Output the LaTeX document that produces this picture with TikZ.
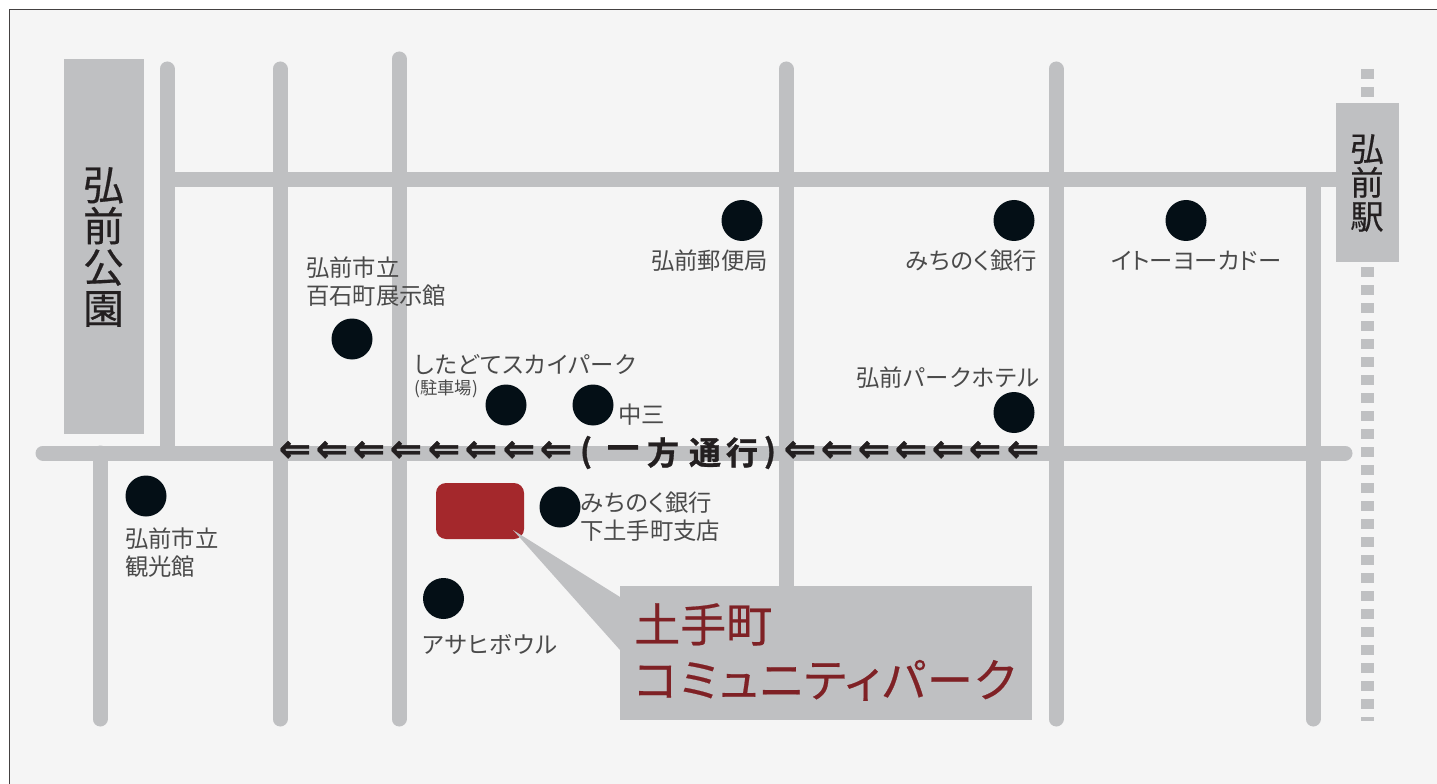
\documentclass[tikz,border=0pt]{standalone}
\usepackage{fontspec}
\setmainfont{Noto Sans CJK JP}[RawFeature=+palt]
\newfontfamily\kanafont{Noto Sans CJK JP}[RawFeature=+palt,LetterSpace=4]
\newfontfamily\medfont{Noto Sans CJK JP}[RawFeature=+palt,FakeBold=0.45]
\newfontfamily\medkana{Noto Sans CJK JP}[RawFeature=+palt,FakeBold=0.45,LetterSpace=3.8]
\newfontfamily\heavyfont{Noto Sans CJK JP Bold}[FakeBold=1]
\newfontfamily\arrowfont{DejaVu Sans Bold}[FakeBold=1]
\definecolor{road}{HTML}{BFC0C2}
\definecolor{paper}{HTML}{F5F5F5}
\definecolor{dotc}{HTML}{040F16}
\definecolor{labelc}{HTML}{4A4A4A}
\definecolor{darkc}{HTML}{231F20}
\definecolor{redbox}{HTML}{A4282C}
\definecolor{redtext}{HTML}{7F2125}
\tikzset{
  x=0.75pt,y=-0.75pt,
  roadline/.style={draw=road,line width=11.25pt,line cap=round},
  dot/.style={circle,fill=dotc,minimum size=30.75pt,inner sep=0pt,outer sep=0pt},
  lab/.style={font=\fontsize{17.5pt}{21pt}\selectfont,text=labelc,inner sep=0pt,align=left},
  arrowmark/.style={font=\arrowfont\fontsize{29pt}{29pt}\selectfont,text=darkc,inner sep=0pt},
  onew/.style={font=\heavyfont\fontsize{24pt}{25pt}\selectfont,text=darkc,inner sep=0pt},
  greybox/.style={fill=road,inner sep=0pt,outer sep=0pt},
}
\begin{document}
\begin{tikzpicture}
\useasboundingbox (0,0) rectangle (1437,784);
\fill[white] (0,0) rectangle (1437,784);
\fill[paper] (9.5,9.5) rectangle (1437,784);
\draw[draw=darkc!85,line width=0.75pt] (1437,9.5) -- (9.5,9.5) -- (9.5,784);
% roads
\draw[road,line width=9.75pt,dash pattern=on 7.5pt off 6pt] (1367.5,69) -- (1367.5,721);
\coordinate (v1a) at (167,69); \coordinate (v1b) at (167,452);
\coordinate (v2a) at (280,69); \coordinate (v2b) at (280,719);
\coordinate (v3a) at (399,59); \coordinate (v3b) at (399,719);
\coordinate (v4a) at (786,69); \coordinate (v4b) at (786,600);
\coordinate (v5a) at (1056,69); \coordinate (v5b) at (1056,719);
\coordinate (v6a) at (1313,180); \coordinate (v6b) at (1313,719);
\coordinate (v7a) at (100,453); \coordinate (v7b) at (100,719);
\coordinate (h1a) at (175,179.5); \coordinate (h1b) at (1345,179.5);
\coordinate (h2a) at (43,453); \coordinate (h2b) at (1345,453);
\foreach \a/\b in {v1a/v1b,v2a/v2b,v3a/v3b,v4a/v4b,v5a/v5b,v6a/v6b,v7a/v7b,h1a/h1b,h2a/h2b}
  \draw[roadline] (\a) -- (\b);
% blocks
\node[greybox,minimum width=60pt,minimum height=281.25pt] (park) at (104,246.5) {};
\node[greybox,minimum width=47.25pt,minimum height=119.25pt] (station) at (1367.5,182.5) {};
\node[inner sep=0pt,align=center,text=darkc,font=\medfont\fontsize{30.5pt}{30.9pt}\selectfont] (parkt) at (103.5,247) {弘\\前\\公\\園};
\node[inner sep=0pt,align=center,text=darkc,font=\medfont\fontsize{25pt}{25.4pt}\selectfont] (stat) at (1367,183) {弘\\前\\駅};
% dots
\foreach \n/\x/\y in {d1/742/220.5,d2/1014/220.5,d3/1186/220.5,d4/352/339,d5/506/405,d6/593/405,d7/1014/412.5,d8/146/496,d9/560/507,d10/443.5/598.5}
  \node[dot] (\n) at (\x,\y) {};
% labels
\node[lab,anchor=west] (l1) at (651,260.5) {弘前郵便局};
\node[lab,anchor=west] (l2) at (905,260.5) {{\kanafont みちのく}銀行};
\node[lab,anchor=west] (l3) at (1111,260.5) {イトーヨーカドー};
\node[lab,anchor=west] (l4) at (306,282) {弘前市立\\百石町展示館};
\node[lab,anchor=west] (l5) at (414,365) {\kanafont したどてスカイパーク};
\node[lab,anchor=west,font=\fontsize{13pt}{14pt}\selectfont] (l5b) at (414,389) {(駐車場)};
\node[lab,anchor=west] (l6) at (618,415) {中三};
\node[lab,anchor=west] (l7) at (856,377.5) {弘前{\kanafont パークホテル}};
\node[lab,anchor=west] (l8) at (125,553) {弘前市立\\観光館};
\node[lab,anchor=west] (l9) at (580,517) {{\kanafont みちのく}銀行\\下土手町支店};
\node[lab,anchor=west] (l10) at (422,644) {\kanafont アサヒボウル};
% one-way
\foreach \i/\x in {1/295,2/332,3/369,4/406,5/444,6/481,7/519,8/556,9/800,10/837,11/874,12/911,13/948,14/985,15/1023}
  \node[arrowmark] (a\i) at (\x,451.5) {⇐};
\foreach \i/\x/\t in {1/586/(,2/623/一,3/663/方,4/705/通,5/742/行,6/770/)}
  \node[onew] (w\i) at (\x,452.5) {\t};
% destination
\node[fill=redbox,rounded corners=7.5pt,minimum width=66pt,minimum height=42pt,inner sep=0pt,outer sep=0pt] (dest) at (480,511) {};
\node[greybox,minimum width=309pt,minimum height=100.5pt] (callout) at (826,653) {};
\coordinate (tip) at (513,530);
\fill[road] (tip) -- (620,597) -- (620,650) -- cycle;
\node[inner sep=0pt,anchor=west,text=redtext,align=left,font=\medfont\fontsize{34.5pt}{41.5pt}\selectfont] (ct) at (634,652) {土手町\\{\medkana コミュニティパーク}};
\end{tikzpicture}
\end{document}
